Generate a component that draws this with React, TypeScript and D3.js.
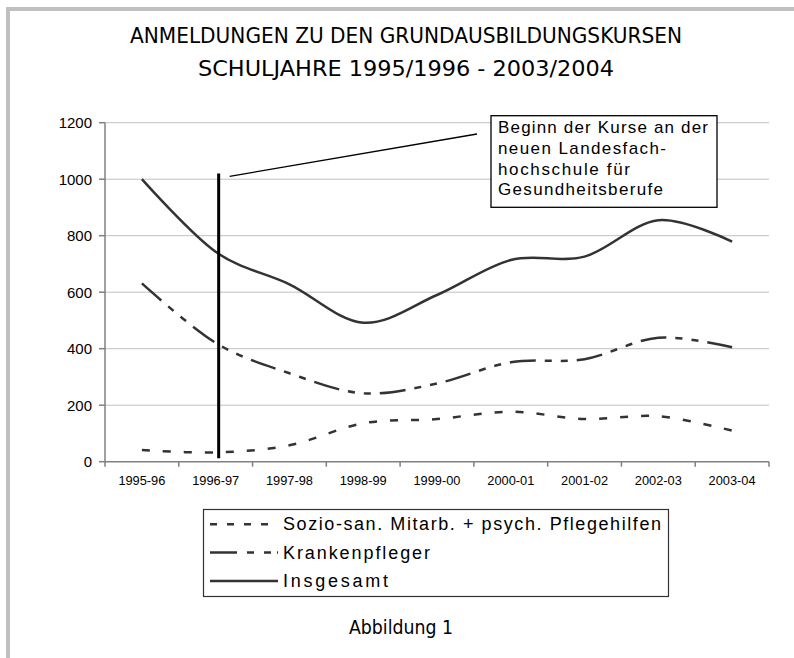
import React from 'react';
import * as d3 from 'd3';

const categories = ['1995-96', '1996-97', '1997-98', '1998-99', '1999-00', '2000-01', '2001-02', '2002-03', '2003-04'];
const sozioValues = [41, 33, 58, 136, 151, 177, 151, 161, 110];
const krankenValues = [631, 421, 313, 242, 277, 352, 363, 439, 405];
const insgesamtValues = [1000, 743, 628, 492, 590, 714, 726, 855, 779];
const yTicks = [0, 200, 400, 600, 800, 1000, 1200];

const titleLines = ['ANMELDUNGEN ZU DEN GRUNDAUSBILDUNGSKURSEN', 'SCHULJAHRE 1995/1996 - 2003/2004'];
const noteLines = ['Beginn der Kurse an der', 'neuen Landesfach-', 'hochschule für', 'Gesundheitsberufe'];
const noteWidths = [210, 168, 132, 165];

const series = [
  { name: 'Sozio-san. Mitarb. + psych. Pflegehilfen', values: sozioValues, dash: '8,13', legendDash: '7,10', width: 378 },
  { name: 'Krankenpfleger', values: krankenValues, dash: '26,9,7,9,7,9', legendDash: '27,10,7,10,7,6', width: 147 },
  { name: 'Insgesamt', values: insgesamtValues, dash: null, legendDash: null, width: 105 },
];

const W = 794;
const H = 658;
const narrow = "'Liberation Sans Narrow', 'DejaVu Sans Condensed', 'Arial Narrow', 'Liberation Sans', sans-serif";
const sans = "'Liberation Sans', Arial, sans-serif";

export default function App() {
  const x = d3.scaleBand<string>().domain(categories).range([105, 769]);
  const y = d3.scaleLinear().domain([0, 1200]).range([461.7, 122.7]);
  const xc = (c: string) => (x(c) ?? 0) + x.bandwidth() / 2;

  const line = d3.line<number>()
    .x((_, i) => xc(categories[i]))
    .y(d => y(d))
    .curve(d3.curveCardinal.tension(0));

  const tickXs = categories.map(c => x(c) ?? 0).concat([x.range()[1]]);
  const markX = xc('1996-97') + 3;

  return (
    <svg width={W} height={H} style={{ position: 'absolute', left: 0, top: 0, background: '#fff' }}>
      {/* page frame */}
      <rect x={6} y={7} width={W - 6} height={4} fill="#c0c0c0" />
      <rect x={6} y={7} width={4} height={H - 7} fill="#c0c0c0" />

      {titleLines.map((t, i) => (
        <text key={t} x={406} y={43 + i * 33} textAnchor="middle" fontFamily={narrow} fontSize={22}
          textLength={i === 0 ? 552 : 416} lengthAdjust="spacingAndGlyphs" fill="#000">{t}</text>
      ))}

      {/* grid */}
      {yTicks.filter(t => t > 0).map(t => (
        <line key={t} x1={105} x2={769} y1={y(t)} y2={y(t)} stroke="#c0c0c0" strokeWidth={1} />
      ))}
      {/* axes */}
      <line x1={105} x2={105} y1={y(1200)} y2={y(0)} stroke="#808080" strokeWidth={1.5} />
      <line x1={105} x2={769} y1={y(0)} y2={y(0)} stroke="#808080" strokeWidth={1.5} />
      {yTicks.map(t => (
        <g key={t}>
          <line x1={99} x2={105} y1={y(t)} y2={y(t)} stroke="#808080" strokeWidth={1.5} />
          <text x={92} y={y(t) + 5.5} textAnchor="end" fontFamily={sans} fontSize={15} fill="#000">{t}</text>
        </g>
      ))}
      {tickXs.map((tx, i) => (
        <line key={i} x1={tx} x2={tx} y1={y(0)} y2={y(0) + 5} stroke="#808080" strokeWidth={1.5} />
      ))}
      {categories.map(c => (
        <text key={c} x={xc(c)} y={485} textAnchor="middle" fontFamily={sans} fontSize={13} fill="#000"
          textLength={47} lengthAdjust="spacingAndGlyphs">{c}</text>
      ))}

      {/* series */}
      {series.map(s => (
        <path key={s.name} d={line(s.values) ?? ''} fill="none" stroke="#333"
          strokeWidth={2.5} strokeDasharray={s.dash ?? undefined} />
      ))}

      {/* annotation */}
      <line x1={markX} x2={markX} y1={y(1020)} y2={y(12)} stroke="#000" strokeWidth={3} />
      <line x1={markX + 11} y1={y(1010)} x2={477} y2={y(1160)} stroke="#000" strokeWidth={1.3} />
      <rect x={491} y={115.7} width={226} height={91.6} fill="#fff" stroke="#000" strokeWidth={1.3} />
      {noteLines.map((t, i) => (
        <text key={t} x={498} y={133 + i * 20.8} fontFamily={sans} fontSize={17} fill="#000"
          textLength={noteWidths[i]} lengthAdjust="spacing">{t}</text>
      ))}

      {/* legend */}
      <rect x={203.5} y={509.5} width={465} height={87} fill="#fff" stroke="#333" strokeWidth={1.2} />
      {series.map((s, i) => {
        const ly = 524.3 + i * 28.3;
        return (
          <g key={s.name}>
            <line x1={210} x2={278} y1={ly} y2={ly} stroke="#333" strokeWidth={2.5}
              strokeDasharray={s.legendDash ?? undefined} />
            <text x={283} y={ly + 6} fontFamily={sans} fontSize={18} fill="#000"
              textLength={s.width} lengthAdjust="spacing">{s.name}</text>
          </g>
        );
      })}

      <text x={401} y={634} textAnchor="middle" fontFamily={narrow} fontSize={20}
        textLength={104} lengthAdjust="spacingAndGlyphs" fill="#000">Abbildung 1</text>
    </svg>
  );
}
